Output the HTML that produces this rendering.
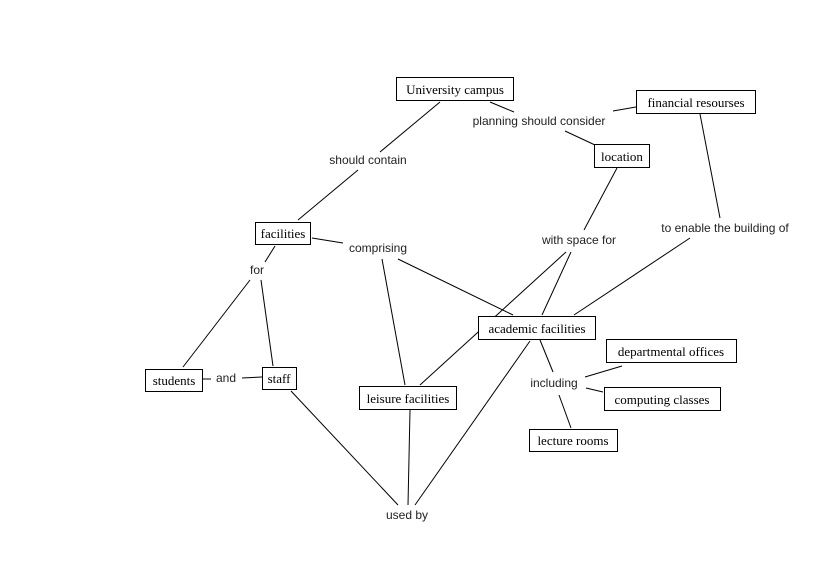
<!DOCTYPE html>
<html><head><meta charset="utf-8"><style>
html,body{margin:0;padding:0;background:#fff;}
svg{display:block;}
.n{font-family:"Liberation Serif",serif;font-size:13px;fill:#000;}
.l{font-family:"Liberation Sans",sans-serif;font-size:12px;fill:#222;}
rect{fill:#fff;stroke:#000;stroke-width:1;}
line{stroke:#000;stroke-width:1;}
</style></head><body>
<svg width="834" height="564" viewBox="0 0 834 564" xmlns="http://www.w3.org/2000/svg">
<g>
<line x1="490" y1="102" x2="514" y2="112"/>
<line x1="613" y1="111" x2="636" y2="107"/>
<line x1="565" y1="131" x2="595" y2="145"/>
<line x1="440" y1="102" x2="380" y2="152"/>
<line x1="358" y1="170" x2="298" y2="220"/>
<line x1="312" y1="238" x2="343" y2="243"/>
<line x1="275" y1="246" x2="265" y2="262"/>
<line x1="250" y1="280" x2="183" y2="367"/>
<line x1="261" y1="280" x2="273" y2="366"/>
<line x1="203" y1="379" x2="211" y2="379"/>
<line x1="242" y1="378" x2="262" y2="377"/>
<line x1="382" y1="259" x2="405" y2="385"/>
<line x1="398" y1="259" x2="513" y2="315"/>
<line x1="617" y1="168" x2="584" y2="230"/>
<line x1="566" y1="252" x2="420" y2="385"/>
<line x1="571" y1="252" x2="542" y2="315"/>
<line x1="690" y1="238" x2="574" y2="315"/>
<line x1="700" y1="114" x2="720" y2="218"/>
<line x1="540" y1="340" x2="553" y2="372"/>
<line x1="585" y1="377" x2="622" y2="366"/>
<line x1="586" y1="388" x2="603" y2="392"/>
<line x1="559" y1="395" x2="571" y2="428"/>
<line x1="291" y1="391" x2="398" y2="505"/>
<line x1="410" y1="410" x2="408" y2="505"/>
<line x1="530" y1="341" x2="415" y2="505"/>
</g>
<rect x="396.5" y="77.5" width="117" height="23"/><text class="n" x="455" y="94" text-anchor="middle">University campus</text>
<rect x="636.5" y="90.5" width="119" height="23"/><text class="n" x="696" y="107" text-anchor="middle">financial resourses</text>
<rect x="594.5" y="144.5" width="55" height="23"/><text class="n" x="622" y="161" text-anchor="middle">location</text>
<rect x="255.5" y="222.5" width="55" height="22"/><text class="n" x="283" y="238" text-anchor="middle">facilities</text>
<rect x="478.5" y="316.5" width="117" height="23"/><text class="n" x="537" y="333" text-anchor="middle">academic facilities</text>
<rect x="606.5" y="339.5" width="130" height="23"/><text class="n" x="671" y="356" text-anchor="middle">departmental offices</text>
<rect x="604.5" y="387.5" width="116" height="23"/><text class="n" x="662" y="404" text-anchor="middle">computing classes</text>
<rect x="529.5" y="429.5" width="88" height="22"/><text class="n" x="573" y="445" text-anchor="middle">lecture rooms</text>
<rect x="145.5" y="369.5" width="57" height="22"/><text class="n" x="174" y="385" text-anchor="middle">students</text>
<rect x="262.5" y="367.5" width="34" height="22"/><text class="n" x="279" y="383" text-anchor="middle">staff</text>
<rect x="359.5" y="386.5" width="97" height="23"/><text class="n" x="408" y="403" text-anchor="middle">leisure facilities</text>
<text class="l" x="539" y="125" text-anchor="middle">planning should consider</text>
<text class="l" x="368" y="164" text-anchor="middle">should contain</text>
<text class="l" x="378" y="252" text-anchor="middle">comprising</text>
<text class="l" x="579" y="244" text-anchor="middle">with space for</text>
<text class="l" x="725" y="232" text-anchor="middle">to enable the building of</text>
<text class="l" x="257" y="274" text-anchor="middle">for</text>
<text class="l" x="226" y="382" text-anchor="middle">and</text>
<text class="l" x="554" y="387" text-anchor="middle">including</text>
<text class="l" x="407" y="519" text-anchor="middle">used by</text>
</svg>
</body></html>
